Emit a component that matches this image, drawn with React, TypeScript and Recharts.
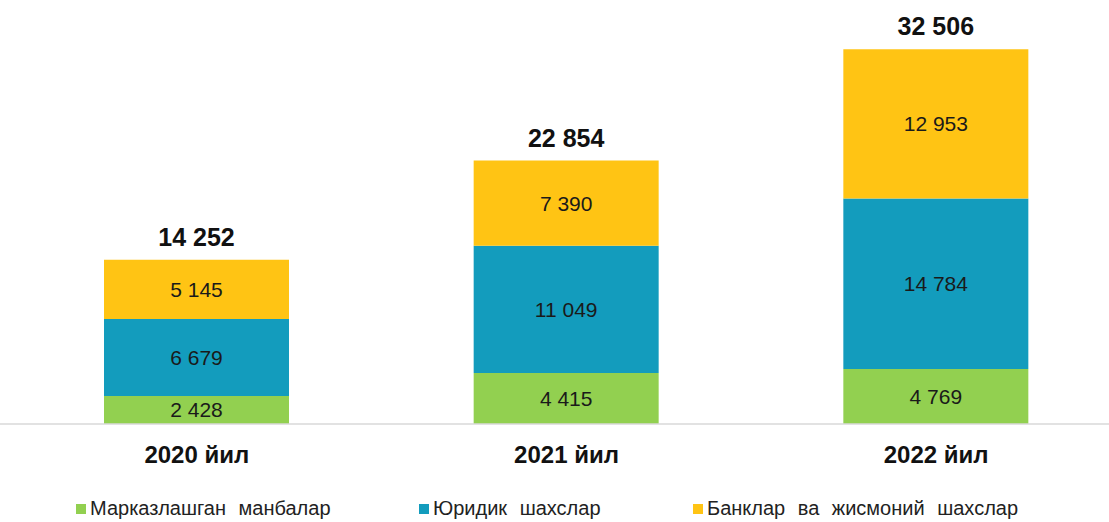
import React from 'react';
import { BarChart, Bar, XAxis, YAxis, LabelList, Legend } from 'recharts';

const years = ['2020 йил', '2021 йил', '2022 йил'];
const centralized = [2428, 4415, 4769];
const legalEntities = [6679, 11049, 14784];
const banksAndIndividuals = [5145, 7390, 12953];

const seriesNames = ['Марказлашган манбалар', 'Юридик шахслар', 'Банклар ва жисмоний шахслар'];
const seriesColors = ['#92D050', '#139CBD', '#FFC414'];

const chartData = years.map((year, i) => ({
    year,
    centralized: centralized[i],
    legal: legalEntities[i],
    banks: banksAndIndividuals[i],
    total: centralized[i] + legalEntities[i] + banksAndIndividuals[i],
}));

const fmt = (v: any) => String(v).replace(/\B(?=(\d{3})+(?!\d))/g, ' ');

const FONT = '"Liberation Sans", Arial, sans-serif';

const YearTick = (props: any) => {
    const { x, y, payload } = props;
    return (
        <text x={x} y={y + 39} textAnchor="middle" fontFamily={FONT} fontSize={24} fontWeight="bold" fill="#111">
            {payload.value}
        </text>
    );
};

// legend items sit at fixed spots like in the original slide
const legendLeft = [76, 419, 693];

const LegendContent = () => (
    <div style={{ position: 'relative', height: 30, width: 1109, fontFamily: FONT, fontSize: 20, color: '#222' }}>
        {seriesNames.map((name, i) => (
            <div key={name} style={{ position: 'absolute', left: legendLeft[i], top: 5, display: 'flex', alignItems: 'center', whiteSpace: 'nowrap', wordSpacing: 7 }}>
                <span style={{ display: 'inline-block', width: 10, height: 10, background: seriesColors[i], marginRight: 4 }} />
                {name}
            </div>
        ))}
    </div>
);

export default function App() {
    return (
        <div style={{ position: 'absolute', left: 0, top: 0, width: 1109, height: 522, overflow: 'hidden', background: '#fff' }}>
            <BarChart width={1121} height={522} data={chartData} margin={{ top: 9, right: 0, left: 0, bottom: 0 }}>
                <XAxis
                    dataKey="year"
                    axisLine={{ stroke: '#D9D9D9', strokeWidth: 1.5 }}
                    tickLine={false}
                    tickSize={0}
                    tickMargin={0}
                    padding={{ left: 12, right: 0 }}
                    height={68}
                    tick={<YearTick />}
                    interval={0}
                />
                <YAxis hide domain={[0, 36000]} />
                <Legend verticalAlign="bottom" align="left" content={<LegendContent />} wrapperStyle={{ height: 30, left: 0, bottom: 0 }} />
                <Bar dataKey="centralized" stackId="a" fill={seriesColors[0]} barSize={185} isAnimationActive={false}>
                    <LabelList dataKey="centralized" position="center" formatter={fmt} fill="#1a1a1a" fontSize={21} fontFamily={FONT} />
                </Bar>
                <Bar dataKey="legal" stackId="a" fill={seriesColors[1]} barSize={185} isAnimationActive={false}>
                    <LabelList dataKey="legal" position="center" formatter={fmt} fill="#1a1a1a" fontSize={21} fontFamily={FONT} />
                </Bar>
                <Bar dataKey="banks" stackId="a" fill={seriesColors[2]} barSize={185} isAnimationActive={false}>
                    <LabelList dataKey="banks" position="center" formatter={fmt} fill="#1a1a1a" fontSize={21} fontFamily={FONT} />
                    <LabelList dataKey="total" position="top" offset={14} formatter={fmt} fill="#111" fontSize={25} fontWeight="bold" fontFamily={FONT} />
                </Bar>
            </BarChart>
        </div>
    );
}
